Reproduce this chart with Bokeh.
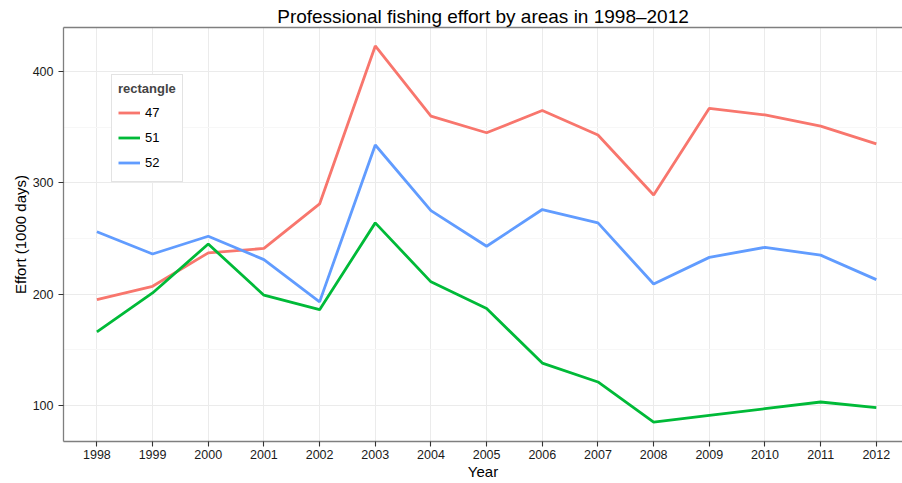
from bokeh.plotting import figure
from bokeh.models import Range1d, FixedTicker, LinearAxis, Legend, LegendItem
from bokeh.embed import file_html
from bokeh.resources import INLINE

years = [1998, 1999, 2000, 2001, 2002, 2003, 2004, 2005, 2006, 2007, 2008, 2009, 2010, 2011, 2012]
effort_47 = [195, 207, 237, 241, 281, 423, 360, 345, 365, 343, 289, 367, 361, 351, 335]
effort_51 = [166, 201, 245, 199, 186, 264, 211, 187, 138, 121, 85, 91, 97, 103, 98]
effort_52 = [256, 236, 252, 231, 193, 334, 275, 243, 276, 264, 209, 233, 242, 235, 213]
series_names = ["47", "51", "52"]
series_colors = ["#F8766D", "#00BA38", "#619CFF"]
y_ticks = [100, 200, 300, 400]
y_minor = [150, 250, 350]

FONT = "Liberation Sans"
AXIS_GRAY = "#7f7f7f"

p = figure(width=902, height=483, output_backend="svg", toolbar_location=None,
           x_range=Range1d(1997.4, 2012.47), y_range=Range1d(67.5, 439.6),
           min_border_left=63, min_border_right=0, min_border_bottom=42, min_border_top=27,
           title="Professional fishing effort by areas in 1998\u20132012")
p.title.align = "center"
p.title.text_font = FONT
p.title.text_font_size = "19px"
p.title.text_font_style = "normal"
p.title.text_color = "#000000"
p.title.standoff = 2
p.title.offset = 4

p.outline_line_color = None
p.background_fill_color = "white"

# axes
p.xaxis.ticker = FixedTicker(ticks=years)
p.yaxis.ticker = FixedTicker(ticks=y_ticks, minor_ticks=y_minor)
for ax in (p.xaxis[0], p.yaxis[0]):
    ax.axis_line_color = AXIS_GRAY
    ax.axis_line_width = 1.3
    ax.major_tick_line_color = "#333333"
    ax.major_tick_line_width = 1.1
    ax.major_tick_out = 5
    ax.major_tick_in = 0
    ax.minor_tick_line_color = None
    ax.major_label_text_font = FONT
    ax.major_label_text_font_size = "12.5px"
    ax.major_label_text_color = "#1a1a1a"
    ax.axis_label_text_font = FONT
    ax.axis_label_text_font_size = "15px"
    ax.axis_label_text_font_style = "normal"
    ax.axis_label_text_color = "#000000"
p.xaxis.axis_label = "Year"
p.yaxis.axis_label = "Effort (1000 days)"
p.xaxis.major_label_standoff = 3
p.xaxis.axis_label_standoff = 1
p.yaxis.major_label_standoff = 5
p.yaxis.axis_label_standoff = 1

top_axis = LinearAxis(ticker=FixedTicker(ticks=[]), axis_line_color=AXIS_GRAY, axis_line_width=1.3,
                      major_tick_out=0, major_tick_in=0, major_label_standoff=0,
                      minor_tick_line_color=None, major_tick_line_color=None,
                      major_label_text_font_size="0px")
p.add_layout(top_axis, "above")

# grid
p.xgrid.grid_line_color = "#ebebeb"
p.xgrid.grid_line_width = 1
p.ygrid.grid_line_color = "#ebebeb"
p.ygrid.grid_line_width = 1
p.ygrid.minor_grid_line_color = "#f7f7f7"
p.ygrid.minor_grid_line_width = 1

renderers = []
for name, vals, col in zip(series_names, [effort_47, effort_51, effort_52], series_colors):
    r = p.line(years, vals, line_color=col, line_width=2.8)
    renderers.append((name, r))

legend = Legend(items=[LegendItem(label=n, renderers=[r]) for n, r in renderers],
                location=(48, 259), title="rectangle",
                title_text_font=FONT, title_text_font_size="13px", title_text_font_style="bold",
                title_standoff=4,
                label_text_font=FONT, label_text_font_size="13px", label_text_color="#000000",
                glyph_width=22, glyph_height=25, label_height=25, label_standoff=5,
                spacing=0, padding=6, margin=0,
                border_line_color="#c8c8c8", border_line_width=1.5,
                background_fill_color="white", background_fill_alpha=1.0)
p.add_layout(legend, "center")

open("out.html", "w").write(file_html(p, INLINE))
